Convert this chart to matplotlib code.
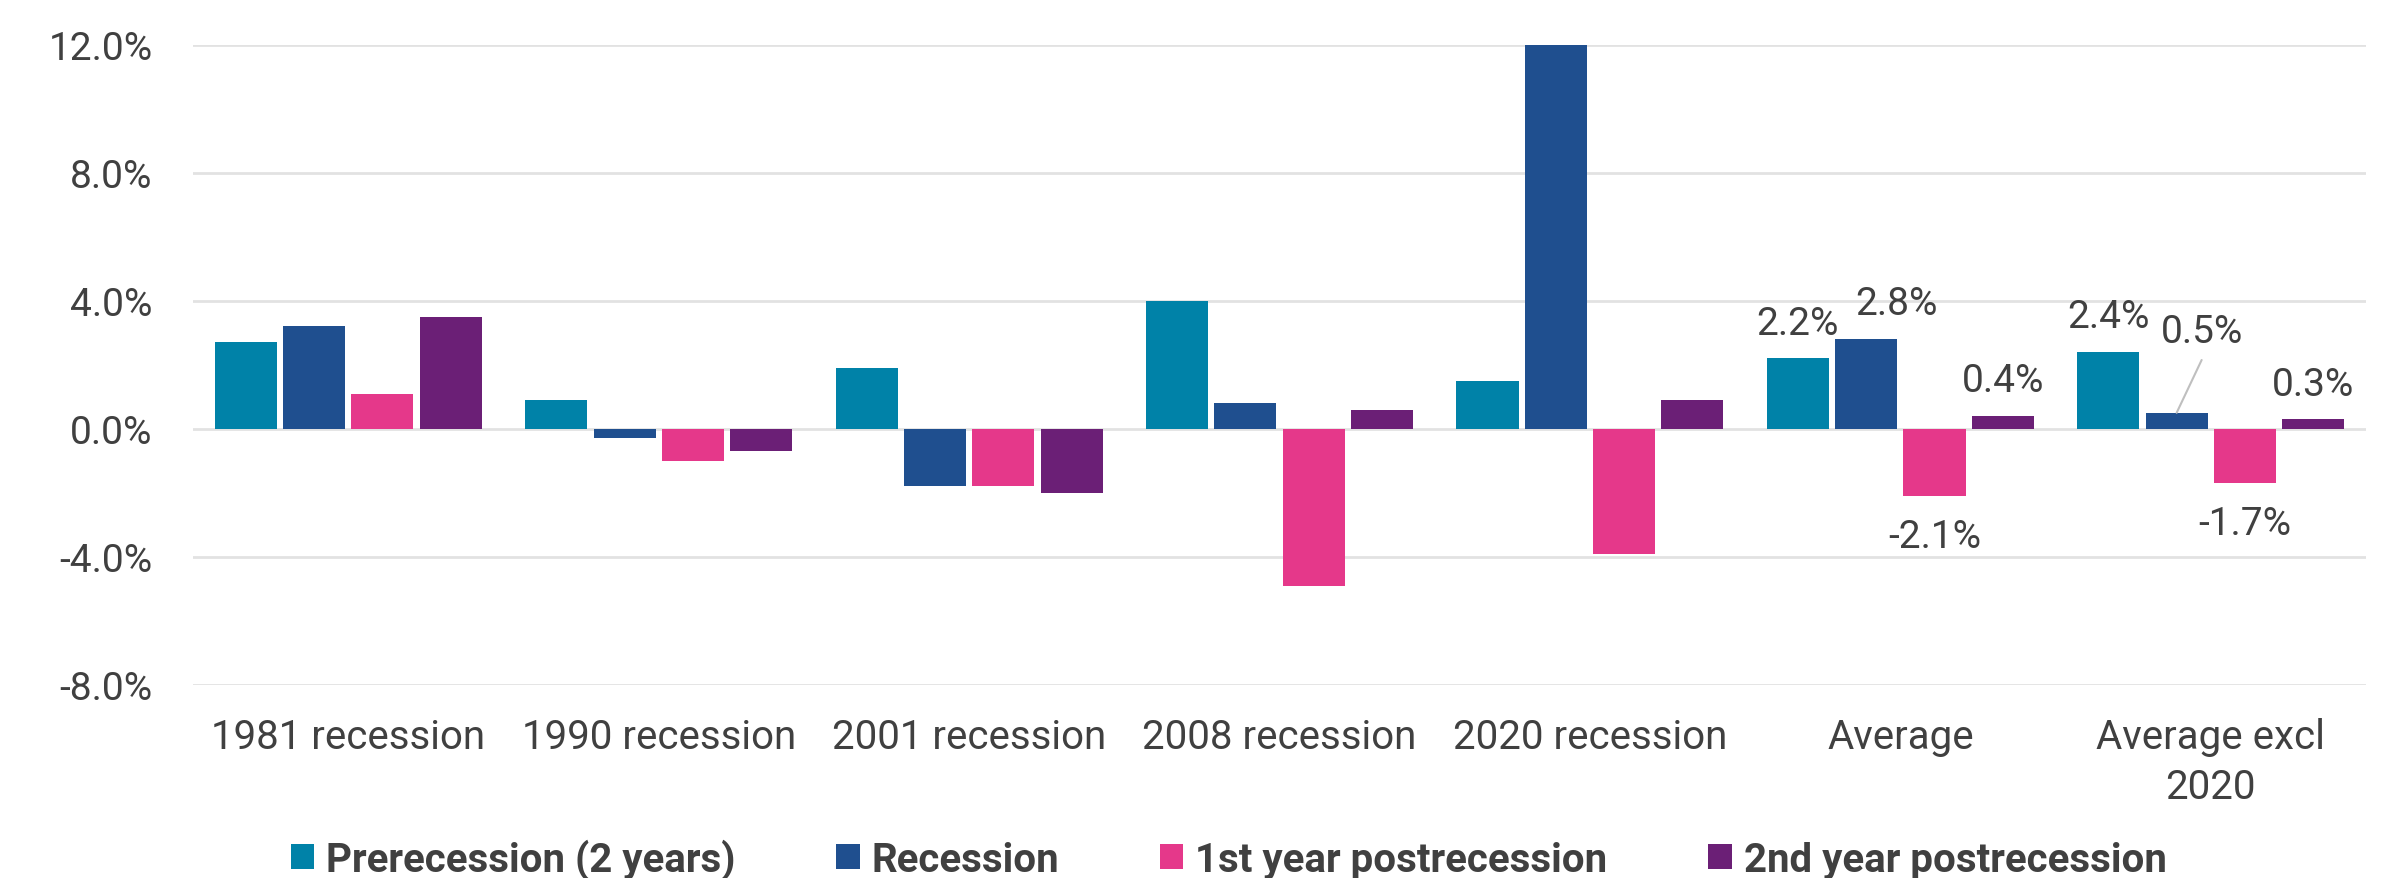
import matplotlib
matplotlib.use("Agg")
import matplotlib.pyplot as plt
from matplotlib.patches import Patch
import numpy as np

# Growth by phase around US recessions
categories = ["1981 recession", "1990 recession", "2001 recession", "2008 recession",
              "2020 recession", "Average", "Average excl\n2020"]
series_names = ["Prerecession (2 years)", "Recession", "1st year postrecession",
                "2nd year postrecession"]
prerecession = [2.7, 0.9, 1.9, 4.0, 1.5, 2.2, 2.4]
recession = [3.2, -0.3, -1.8, 0.8, 12.1, 2.8, 0.5]
post_year1 = [1.1, -1.0, -1.8, -4.9, -3.9, -2.1, -1.7]
post_year2 = [3.5, -0.7, -2.0, 0.6, 0.9, 0.4, 0.3]
series = [prerecession, recession, post_year1, post_year2]
colors = ["#0082A8", "#1F4F8F", "#E5388A", "#6B1F76"]
yticks = [-8, -4, 0, 4, 8, 12]

TEXT = "#404040"
GRID = "#E2E2E2"
plt.rcParams["font.family"] = ["Roboto", "DejaVu Sans"]

fig = plt.figure(figsize=(23.81, 8.79), dpi=100)
ax = fig.add_axes([0.0811, 0.2196, 0.9126, 0.7286])

x = np.arange(len(categories))
pitch = 0.22
width = 0.20
offsets = (np.arange(4) - 1.5) * pitch
for vals, off, col in zip(series, offsets, colors):
    ax.bar(x + off, vals, width=width, color=col, zorder=3)

ax.set_xlim(-0.5, len(categories) - 0.5)
ax.set_ylim(-8, 12)
ax.set_yticks(yticks)
ax.set_yticklabels([f"{v:.1f}%" for v in yticks])
ax.set_xticks(x)
ax.set_xticklabels(categories, linespacing=1.35)
ax.tick_params(axis="both", length=0, colors=TEXT)
ax.tick_params(axis="y", labelsize=28, pad=29)
ax.tick_params(axis="x", labelsize=29, pad=23)
ax.grid(axis="y", color=GRID, linewidth=2, zorder=0)
ax.set_axisbelow(True)
for s in ax.spines.values():
    s.set_visible(False)

# Value labels for the two average groups
label_fs = 28
label_shift = {(5, 1): 22}
for si, vals in enumerate(series):
    for ci in (5, 6):
        v = vals[ci]
        bx = x[ci] + offsets[si]
        txt = f"{v:.1f}%"
        if (ci, si) == (6, 1):
            ax.annotate("", xy=(bx, v), xytext=(18, 38), textcoords="offset points",
                        arrowprops=dict(arrowstyle="-", color="#BFBFBF", lw=1.5,
                                        shrinkA=0, shrinkB=0))
            ax.annotate(txt, xy=(bx, v), xytext=(18, 45), textcoords="offset points",
                        ha="center", va="bottom", fontsize=label_fs, color=TEXT)
            continue
        dx = label_shift.get((ci, si), 0)
        if v >= 0:
            ax.annotate(txt, xy=(bx, v), xytext=(dx, 12), textcoords="offset points",
                        ha="center", va="bottom", fontsize=label_fs, color=TEXT)
        else:
            ax.annotate(txt, xy=(bx, v), xytext=(dx, -16), textcoords="offset points",
                        ha="center", va="top", fontsize=label_fs, color=TEXT)

handles = [Patch(facecolor=c, edgecolor="none") for c in colors]
leg = fig.legend(handles, series_names, loc="center", bbox_to_anchor=(0.516, 0.021),
                 ncol=4, frameon=False, handlelength=0.58, handleheight=0.58,
                 handletextpad=0.3, columnspacing=2.5,
                 prop={"family": ["Roboto", "DejaVu Sans"], "weight": "bold", "size": 29})
for t in leg.get_texts():
    t.set_color(TEXT)

fig.savefig("out.png", dpi=100)
